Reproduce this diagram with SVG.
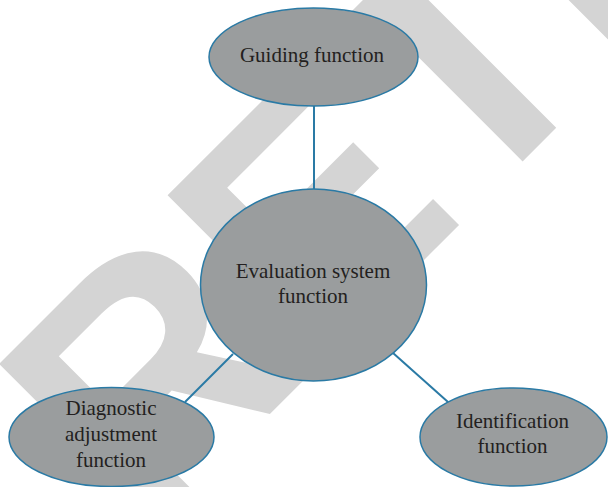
<svg xmlns="http://www.w3.org/2000/svg" width="608" height="487" viewBox="0 0 608 487">
<style>
.wm{font-family:"Liberation Sans",Arial,sans-serif;font-weight:bold;font-size:330px;fill:#d4d4d4}
.node{fill:#9a9d9e;stroke:#2a7aa5;stroke-width:1.5}
.lbl{font-family:"Liberation Serif","Times New Roman",serif;font-size:21px;fill:#231f20;text-anchor:middle}
.conn{stroke:#2a7aa5;stroke-width:2;fill:none}
</style>
<rect width="608" height="487" fill="#ffffff"/>
<text class="wm" transform="translate(144,540) rotate(-45)">RETRACTED</text>
<g id="connectors">
<line class="conn" x1="314" y1="106" x2="314" y2="189"/>
<line class="conn" x1="233" y1="354" x2="185" y2="402"/>
<line class="conn" x1="393" y1="353" x2="448" y2="402"/>
</g>
<g id="guiding">
<ellipse class="node" cx="313.5" cy="57" rx="104.5" ry="49"/>
<text class="lbl" x="312" y="62">Guiding function</text>
</g>
<g id="evaluation">
<ellipse class="node" cx="313.5" cy="285" rx="113" ry="96"/>
<text class="lbl" x="313" y="278">Evaluation system</text>
<text class="lbl" x="313" y="302.5">function</text>
</g>
<g id="diagnostic">
<ellipse class="node" cx="111.5" cy="437" rx="102.5" ry="49.5"/>
<text class="lbl" x="111" y="415">Diagnostic</text>
<text class="lbl" x="111" y="441">adjustment</text>
<text class="lbl" x="111" y="466.5">function</text>
</g>
<g id="identification">
<ellipse class="node" cx="513.5" cy="437" rx="93.5" ry="49"/>
<text class="lbl" x="512.5" y="428">Identification</text>
<text class="lbl" x="512.5" y="453">function</text>
</g>
</svg>
